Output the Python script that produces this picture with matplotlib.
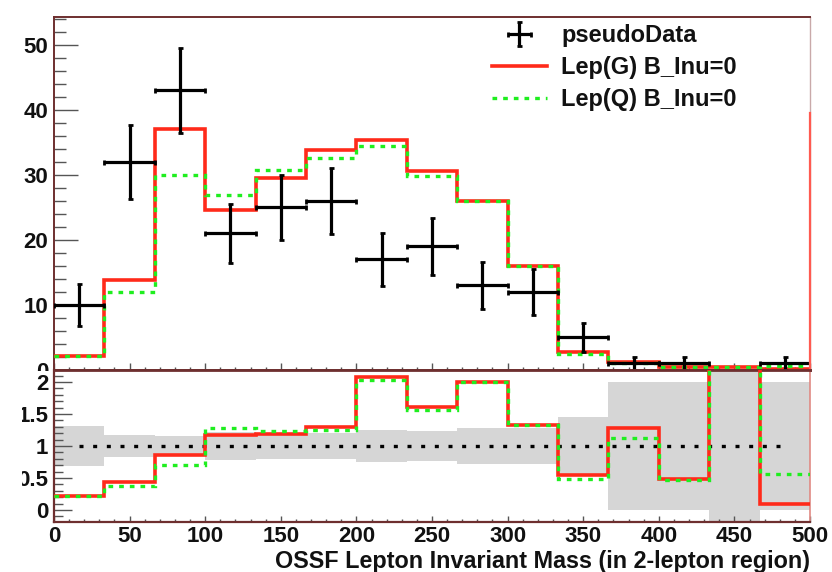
import numpy as np
import matplotlib
matplotlib.use("Agg")
import matplotlib.pyplot as plt
from matplotlib.patches import Rectangle
from matplotlib.ticker import MultipleLocator, FuncFormatter

plt.rcParams['font.family'] = ['Liberation Sans', 'DejaVu Sans']
plt.rcParams['font.weight'] = 'bold'

# Histogram binning (15 equal bins from 0 to 500)
bin_edges = np.linspace(0, 500, 16)

# Observed pseudo-data counts per bin
pseudo_data = np.array([10, 32, 43, 21, 25, 26, 17, 19, 13, 12, 5, 1, 1, 0, 1], dtype=float)

# Model predictions per bin
lep_g = np.array([2.2, 13.8, 37.0, 24.6, 29.6, 33.8, 35.4, 30.6, 26.0, 16.0, 2.75, 1.28, 0.48, 0.45, 0.09])
lep_q = np.array([2.2, 12.0, 30.0, 26.9, 30.8, 32.6, 34.5, 29.8, 26.0, 16.0, 2.4, 1.13, 0.47, 0.45, 0.56])

legend_labels = ["pseudoData", "Lep(G) B_Inu=0", "Lep(Q) B_Inu=0"]
x_title = "OSSF Lepton Invariant Mass (in 2-lepton region)"

RED = "#ff2a1a"
GREEN = "#1fee1f"
FRAME = "#6e2f2f"
TICK = "#555555"
TEXT = "#111111"

centers = 0.5 * (bin_edges[:-1] + bin_edges[1:])
half_w = 0.5 * np.diff(bin_edges)
has_data = pseudo_data > 0
stat_err = np.sqrt(pseudo_data)

W, H = 832, 572
fig = plt.figure(figsize=(W / 100, H / 100), dpi=100)
fig.patch.set_facecolor("white")

ax1 = fig.add_axes([54 / W, 1 - 370 / H, 756 / W, 353 / H])
ax2 = fig.add_axes([54 / W, 1 - 522 / H, 756 / W, 152 / H])
ax1.set_zorder(0)
ax2.set_zorder(1)

# ---- upper pad: distributions ----
ax1.stairs(lep_g, bin_edges, baseline=None, color=RED, lw=2.6, zorder=3)
ax1.stairs(lep_q, bin_edges, baseline=None, color=GREEN, lw=2.4,
           linestyle=(0, (1.4, 1.8)), zorder=4)
h_data = ax1.errorbar(centers[has_data], pseudo_data[has_data],
                      xerr=half_w[has_data], yerr=stat_err[has_data],
                      fmt="none", ecolor="black", elinewidth=2.3,
                      capsize=1.8, capthick=2.0, zorder=5)

ax1.set_xlim(0, 500)
ax1.set_ylim(0, 54.3)
ax1.xaxis.set_major_locator(MultipleLocator(50))
ax1.xaxis.set_minor_locator(MultipleLocator(10))
ax1.yaxis.set_major_locator(MultipleLocator(10))
ax1.yaxis.set_minor_locator(MultipleLocator(2))
ax1.tick_params(axis="x", which="both", direction="in", labelbottom=False,
                color=TICK, width=1)
ax1.tick_params(axis="x", which="major", length=5)
ax1.tick_params(axis="x", which="minor", length=2.5)
ax1.tick_params(axis="y", which="both", direction="in", color=TICK, width=1,
                labelsize=16, labelcolor=TEXT, pad=4)
ax1.tick_params(axis="y", which="major", length=17)
ax1.tick_params(axis="y", which="minor", length=8.5)

for side in ("left", "top"):
    ax1.spines[side].set_color(FRAME)
    ax1.spines[side].set_linewidth(1.4)
ax1.spines["bottom"].set_color(FRAME)
ax1.spines["bottom"].set_linewidth(2.0)
ax1.spines["right"].set_color("#c9a9a9")
ax1.spines["right"].set_linewidth(1.0)
ax1.axvline(500, ymin=0, ymax=0.728, color="#ff5a50", lw=1.6, clip_on=False, zorder=6)

h_g, = ax1.plot([], [], color=RED, lw=2.6)
h_q, = ax1.plot([], [], color=GREEN, lw=2.4, linestyle=(0, (1.4, 1.8)))
ax1.legend([h_data, h_g, h_q], legend_labels, loc="upper left",
           bbox_to_anchor=(0.579, 0.98), frameon=False,
           prop={"size": 17, "weight": "bold"},
           handlelength=2.35, handletextpad=0.6, labelspacing=0.38,
           borderpad=0, borderaxespad=0, labelcolor=TEXT)

# ---- lower pad: model / data ratio ----
ratio_g = np.divide(lep_g, pseudo_data, out=np.full_like(lep_g, 50.0), where=has_data)
ratio_q = np.divide(lep_q, pseudo_data, out=np.full_like(lep_q, 50.0), where=has_data)
rel_err = np.divide(1.0, stat_err, out=np.full_like(stat_err, 50.0), where=has_data)

ax2.bar(centers, 2 * rel_err, bottom=1 - rel_err, width=2 * half_w,
        color="#d6d6d6", edgecolor="none", zorder=1)
ax2.plot([centers[0], centers[-1]], [1, 1], color="black", lw=2.4,
         linestyle=(0, (1.2, 2.9)), zorder=2)
ax2.stairs(ratio_g, bin_edges, baseline=None, color=RED, lw=2.6, zorder=3)
ax2.stairs(ratio_q, bin_edges, baseline=None, color=GREEN, lw=2.4,
           linestyle=(0, (1.4, 1.8)), zorder=4)

ax2.set_xlim(0, 500)
ax2.set_ylim(-0.1875, 2.1875)
ax2.xaxis.set_major_locator(MultipleLocator(50))
ax2.xaxis.set_minor_locator(MultipleLocator(10))
ax2.yaxis.set_major_locator(MultipleLocator(0.5))
ax2.yaxis.set_minor_locator(MultipleLocator(0.1))
ax2.yaxis.set_major_formatter(FuncFormatter(lambda v, p: f"{v:g}"))
ax2.tick_params(axis="both", which="both", direction="in", color=TICK, width=1,
                labelsize=16, labelcolor=TEXT)
ax2.tick_params(axis="x", which="major", length=4.5, pad=3)
ax2.tick_params(axis="x", which="minor", length=2.2)
ax2.tick_params(axis="y", which="major", length=13, pad=4)
ax2.tick_params(axis="y", which="minor", length=6.5)
ax2.set_xlabel(x_title, loc="right", fontsize=16.8, fontweight="bold",
               color=TEXT, labelpad=2)

for side in ("left", "bottom"):
    ax2.spines[side].set_color(FRAME)
    ax2.spines[side].set_linewidth(1.6)
ax2.spines["top"].set_color(FRAME)
ax2.spines["top"].set_linewidth(2.0)
ax2.spines["right"].set_color("#e08a84")
ax2.spines["right"].set_linewidth(1.2)

# lower pad background hides what the upper pad draws beneath it
fig.add_artist(Rectangle((0, 0), 54 / W, 1 - 371 / H, transform=fig.transFigure,
                         facecolor="white", edgecolor="none", zorder=0.5))
# left margin of the lower pad trims its tick labels
fig.add_artist(Rectangle((0, 0), 22 / W, 1 - 371 / H, transform=fig.transFigure,
                         facecolor="white", edgecolor="none", zorder=5))

fig.savefig("out.png", dpi=100)
